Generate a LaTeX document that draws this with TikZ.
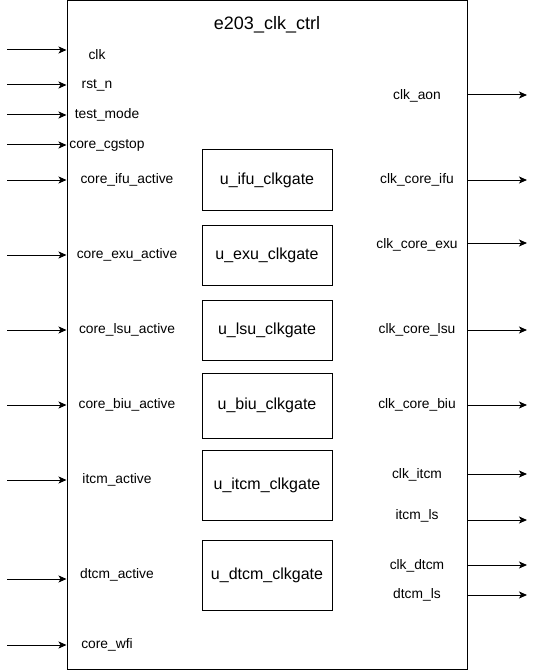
\documentclass[tikz,border=0pt]{standalone}
\usepackage{fontspec}
\setmainfont{Liberation Sans}
\usetikzlibrary{arrows.meta}
\usetikzlibrary{positioning}

\begin{document}
\begin{tikzpicture}
	[x=1pt,y=-1pt,line width=1pt,
	sig/.style={font=\fontsize{13.8}{15}\selectfont,inner sep=0pt},
	gate/.style={draw,minimum width=130pt,inner sep=0pt,font=\fontsize{16}{18}\selectfont},
	wire/.style={-{Stealth[length=8pt,width=7pt,inset=2pt]}}]
	\useasboundingbox (0,0) rectangle (536,671);
	\node[draw,minimum width=400pt,minimum height=668pt,inner sep=0pt] (ctrl) at (267,335) {};
	\node[font=\fontsize{18}{20}\selectfont,inner sep=0pt] (title) at (267,25) {e203\_clk\_ctrl};
	
	% clock gates
	\foreach \n/\y/\h in {ifu/180/60, exu/255/60, lsu/330/60, biu/405.5/65, itcm/485/70, dtcm/575/70}
	\node[gate,minimum height=\h pt] (g\n) at (267,\y) {u\_\n\_clkgate};
	
	% inputs
	\foreach \n/\txt/\y/\lx/\ly in
	{clk/clk/50/97/55, rstn/rst\_n/85/97/85, tm/test\_mode/115/107/115,
	 cg/core\_cgstop/145/107/145, ifu/core\_ifu\_active/180/127/180,
	 exu/core\_exu\_active/255/127/255, lsu/core\_lsu\_active/330/127/330,
	 biu/core\_biu\_active/405/127/405, itcm/itcm\_active/480/117/480,
	 dtcm/dtcm\_active/579/117/575, wfi/core\_wfi/645/107/645}
	{
	\node[sig] (i\n) at (\lx,\ly) {\txt};
	\coordinate (s\n) at (7,\y);
	\draw[wire] (s\n) -- (ctrl.west |- s\n);
	}
	
	% outputs
	\foreach \n/\txt/\y/\ly in
	{aon/clk\_aon/95/96, ifu/clk\_core\_ifu/180/180, exu/clk\_core\_exu/243/245,
	 lsu/clk\_core\_lsu/330/330, biu/clk\_core\_biu/405/405, itcm/clk\_itcm/474/475,
	 itls/itcm\_ls/520/516, dtcm/clk\_dtcm/565/566, dtls/dtcm\_ls/595/595}
	{
	\node[sig] (o\n) at (417,\ly) {\txt};
	\coordinate (e\n) at (527,\y);
	\draw[wire] (ctrl.east |- e\n) -- (e\n);
	}
\end{tikzpicture}
\end{document}
